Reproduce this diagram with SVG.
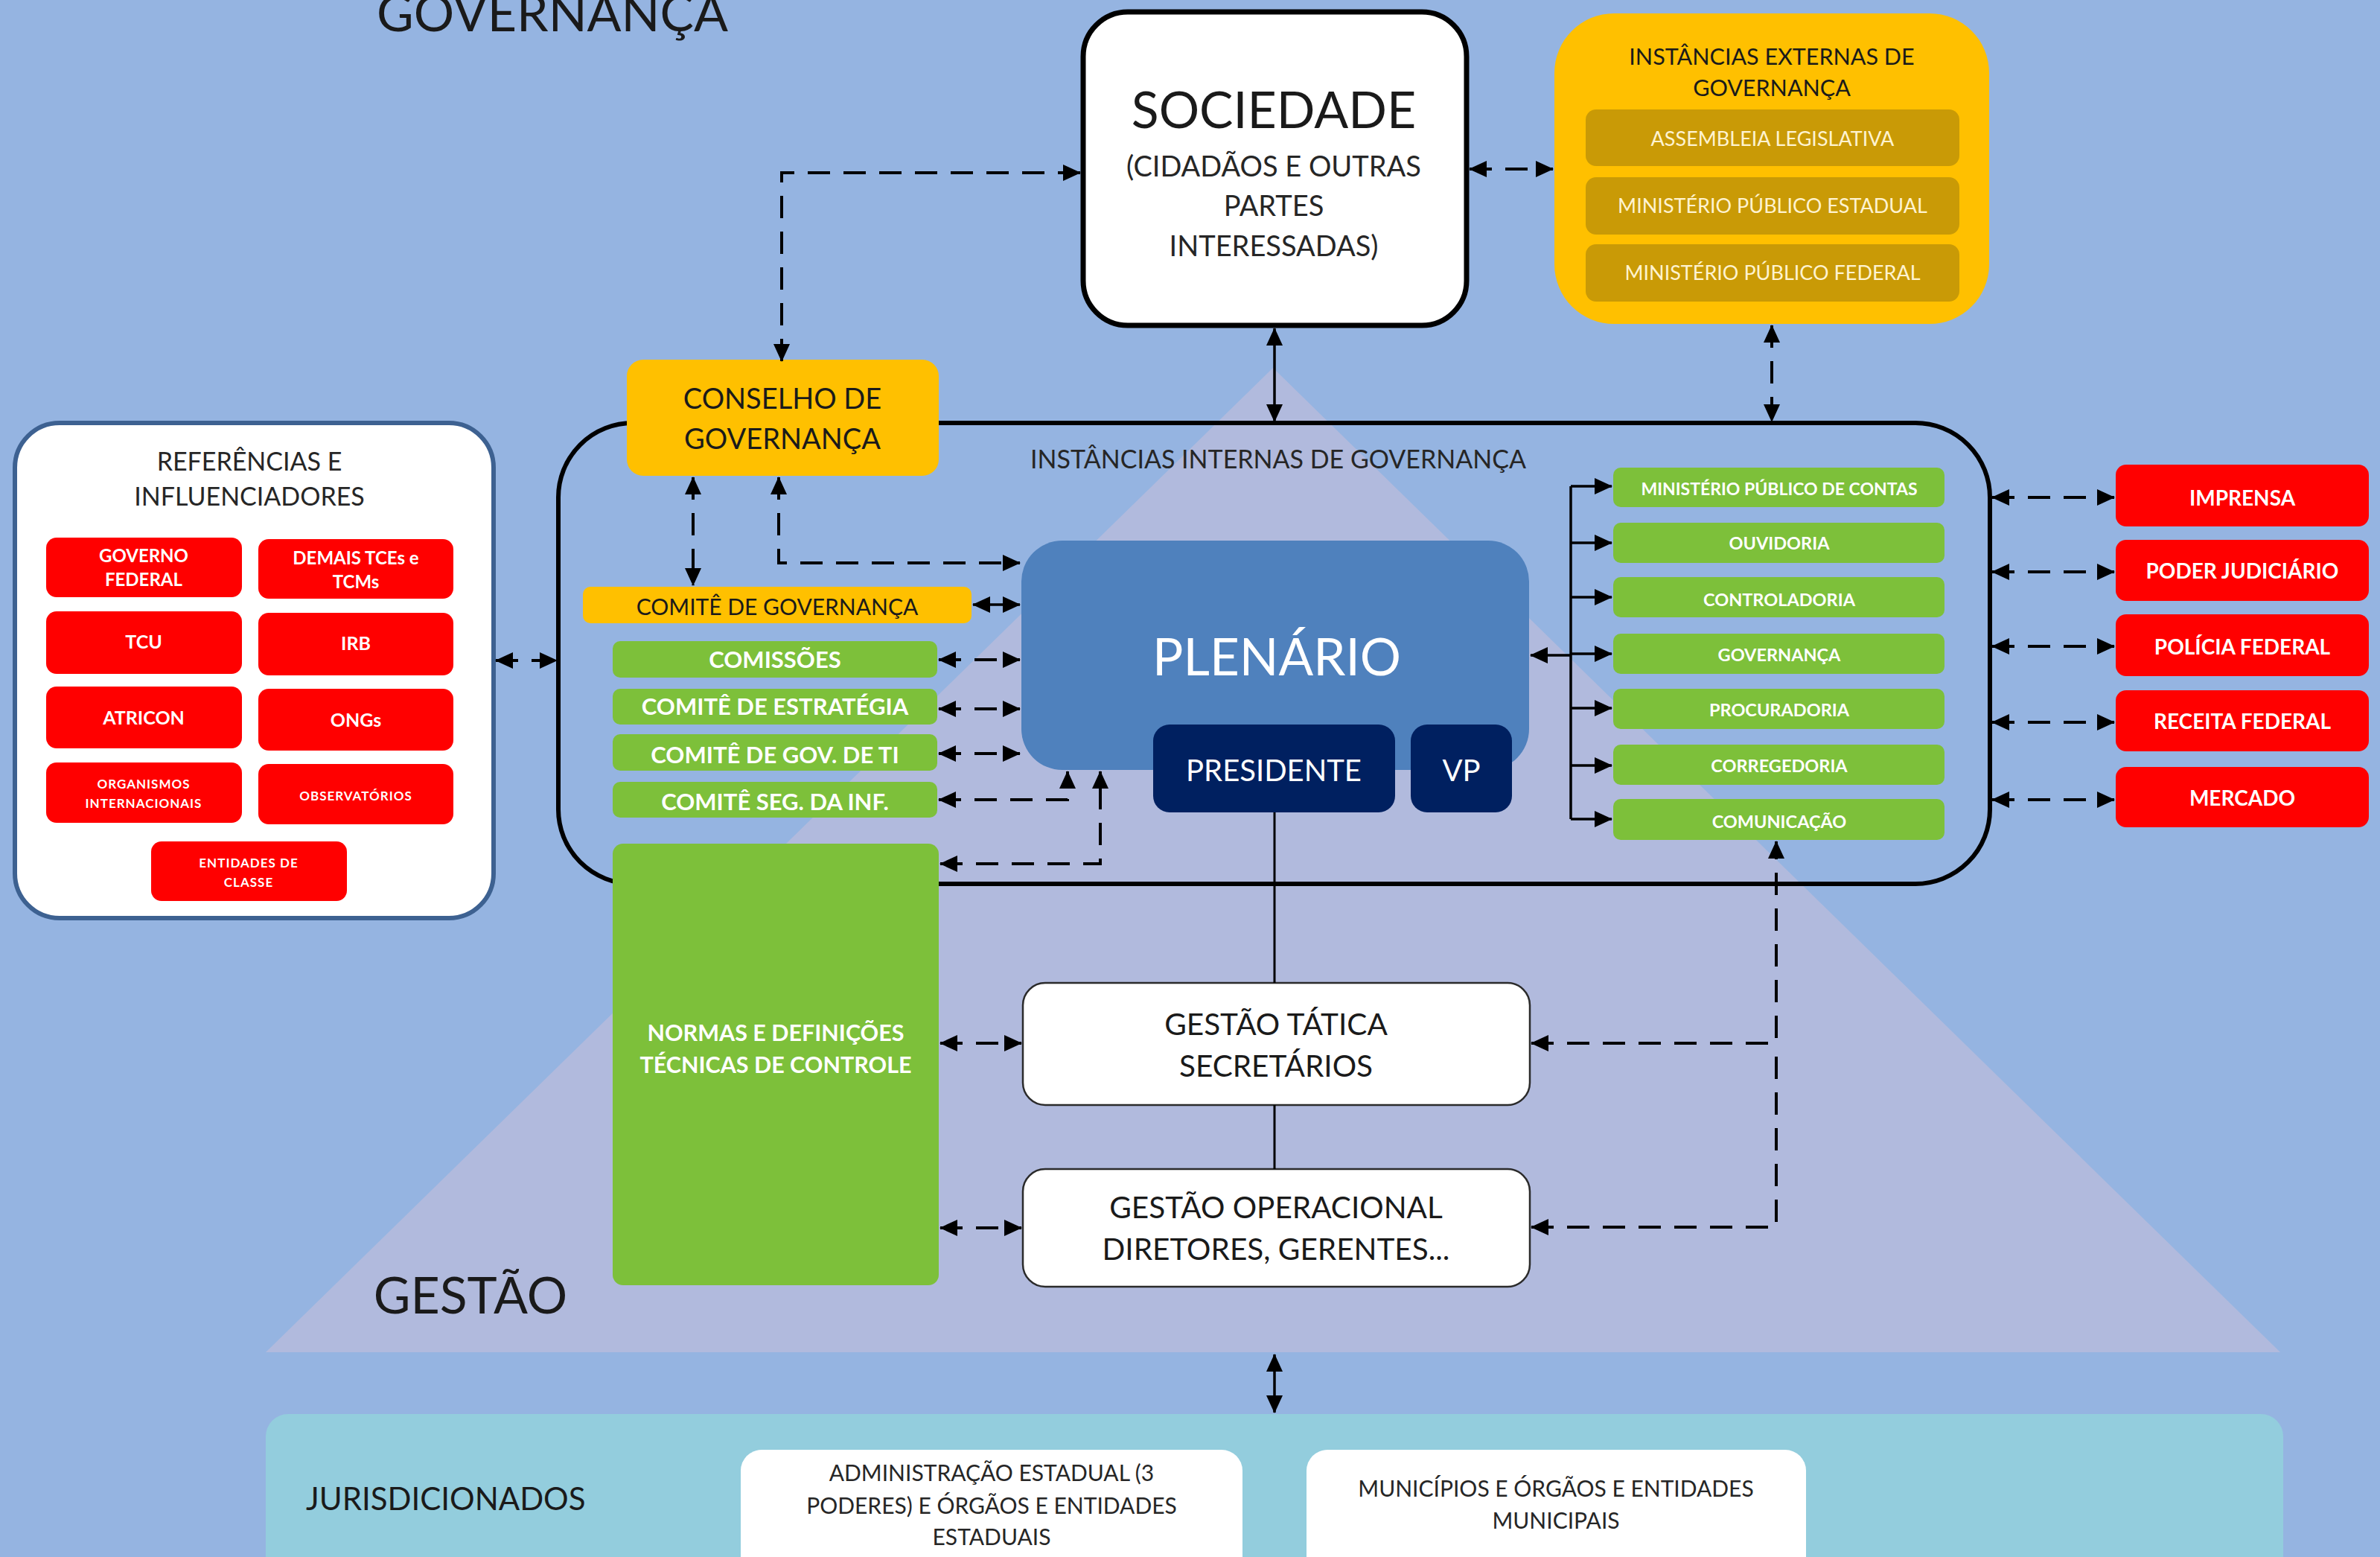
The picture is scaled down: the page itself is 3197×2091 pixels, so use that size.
<svg xmlns="http://www.w3.org/2000/svg" width="3197" height="2091" viewBox="0 0 3197 2091">
<defs>
<marker id="ah" viewBox="0 0 24 22" refX="23" refY="11" markerWidth="24" markerHeight="22" markerUnits="userSpaceOnUse" orient="auto-start-reverse"><path d="M0,0 L24,11 L0,22 z" fill="#000"/></marker>
<style>
text{font-family:Lato,"Open Sans","Liberation Sans",sans-serif;text-anchor:middle}
.dk{fill:#1a1a1a}
.wb{fill:#fff;font-weight:700}
.red{fill:#FF0000}
.grn{fill:#7DC03A}
.ylw{fill:#FFC000}
.gold{fill:#C99A06}
.wbox{fill:#fff;stroke:#2b2b2b;stroke-width:2.5}
.dash{fill:none;stroke:#000;stroke-width:4;stroke-dasharray:30 18}
.sol{fill:none;stroke:#000;stroke-width:3.5}
.thin{fill:none;stroke:#000;stroke-width:3}
</style>
</defs>
<rect x="0" y="0" width="3197" height="2091" fill="#95B4E1"/>
<polygon points="1710,494 357,1816 3063,1816" fill="#B1BADD"/>
<text x="742" y="42" font-size="68" class="dk">GOVERNANÇA</text>
<text x="632" y="1764" font-size="68" class="dk">GESTÃO</text>

<g id="internas">
<rect x="750" y="568" width="1923" height="619" rx="100" fill="none" stroke="#000" stroke-width="6"/>
<text x="1717" y="629" font-size="34" fill="#262626">INSTÂNCIAS INTERNAS DE GOVERNANÇA</text>
</g>

<g id="jurisdicionados">
<rect x="357" y="1899" width="2710" height="260" rx="30" fill="#93CDDD"/>
<text x="411" y="2028" font-size="42" class="dk" style="text-anchor:start">JURISDICIONADOS</text>
</g>
<g id="adm-estadual">
<rect x="995" y="1947" width="674" height="200" rx="28" fill="#fff"/>
<text x="1332" y="1989" font-size="30" fill="#262626">ADMINISTRAÇÃO ESTADUAL (3</text>
<text x="1332" y="2033" font-size="30" fill="#262626">PODERES) E ÓRGÃOS E ENTIDADES</text>
<text x="1332" y="2075" font-size="30" fill="#262626">ESTADUAIS</text>
</g>
<g id="municipios">
<rect x="1755" y="1947" width="671" height="200" rx="28" fill="#fff"/>
<text x="2090" y="2010" font-size="30" fill="#262626">MUNICÍPIOS E ÓRGÃOS E ENTIDADES</text>
<text x="2090" y="2053" font-size="30" fill="#262626">MUNICIPAIS</text>
</g>

<g id="sociedade">
<rect x="1455" y="16" width="515" height="421" rx="60" fill="#fff" stroke="#000" stroke-width="7"/>
<text x="1711" y="172" font-size="68" class="dk">SOCIEDADE</text>
<text x="1711" y="237" font-size="38" fill="#262626">(CIDADÃOS E OUTRAS</text>
<text x="1711" y="290" font-size="38" fill="#262626">PARTES</text>
<text x="1711" y="344" font-size="38" fill="#262626">INTERESSADAS)</text>
</g>

<g id="externas">
<rect x="2088" y="18" width="584" height="417" rx="80" class="ylw"/>
<text x="2380" y="87" font-size="30.5" class="dk">INSTÂNCIAS EXTERNAS DE</text>
<text x="2380" y="129" font-size="30.5" class="dk">GOVERNANÇA</text>
<rect x="2130" y="147" width="502" height="76" rx="14" class="gold"/>
<text x="2381" y="196" font-size="27" fill="#FFF3D0">ASSEMBLEIA LEGISLATIVA</text>
<rect x="2130" y="238" width="502" height="77" rx="14" class="gold"/>
<text x="2381" y="286" font-size="27" fill="#FFF3D0">MINISTÉRIO PÚBLICO ESTADUAL</text>
<rect x="2130" y="328" width="502" height="77" rx="14" class="gold"/>
<text x="2381" y="376" font-size="27" fill="#FFF3D0">MINISTÉRIO PÚBLICO FEDERAL</text>
</g>

<g id="conselho">
<rect x="842" y="483" width="419" height="156" rx="22" class="ylw"/>
<text x="1051" y="549" font-size="38" class="dk">CONSELHO DE</text>
<text x="1051" y="603" font-size="38" class="dk">GOVERNANÇA</text>
</g>

<g id="referencias">
<rect x="20" y="568" width="643" height="665" rx="60" fill="#fff" stroke="#3D6191" stroke-width="6"/>
<text x="335" y="632" font-size="34" fill="#262626">REFERÊNCIAS E</text>
<text x="335" y="679" font-size="34" fill="#262626">INFLUENCIADORES</text>
<rect x="62" y="722" width="263" height="80" rx="14" class="red"/>
<text x="193" y="755" font-size="24" class="wb">GOVERNO</text>
<text x="193" y="787" font-size="24" class="wb">FEDERAL</text>
<rect x="347" y="724" width="262" height="80" rx="14" class="red"/>
<text x="478" y="758" font-size="24" class="wb">DEMAIS TCEs e</text>
<text x="478" y="790" font-size="24" class="wb">TCMs</text>
<rect x="62" y="821" width="263" height="84" rx="14" class="red"/>
<text x="193" y="871" font-size="25" class="wb">TCU</text>
<rect x="347" y="823" width="262" height="84" rx="14" class="red"/>
<text x="478" y="873" font-size="25" class="wb">IRB</text>
<rect x="62" y="922" width="263" height="83" rx="14" class="red"/>
<text x="193" y="973" font-size="25" class="wb">ATRICON</text>
<rect x="347" y="925" width="262" height="83" rx="14" class="red"/>
<text x="478" y="976" font-size="25" class="wb">ONGs</text>
<rect x="62" y="1024" width="263" height="81" rx="14" class="red"/>
<text x="193" y="1059" font-size="17" class="wb" letter-spacing="1">ORGANISMOS</text>
<text x="193" y="1085" font-size="17" class="wb" letter-spacing="1">INTERNACIONAIS</text>
<rect x="347" y="1026" width="262" height="81" rx="14" class="red"/>
<text x="478" y="1075" font-size="17" class="wb" letter-spacing="1">OBSERVATÓRIOS</text>
<rect x="203" y="1130" width="263" height="80" rx="14" class="red"/>
<text x="334" y="1165" font-size="17" class="wb" letter-spacing="1">ENTIDADES  DE</text>
<text x="334" y="1191" font-size="17" class="wb" letter-spacing="1">CLASSE</text>
</g>

<g id="comite-governanca">
<rect x="783" y="788" width="522" height="49" rx="10" class="ylw"/>
<text x="1044" y="826" font-size="30" class="dk">COMITÊ DE GOVERNANÇA</text>
</g>
<g id="comissoes">
<rect x="823" y="861" width="436" height="49" rx="10" class="grn"/>
<text x="1041" y="897" font-size="31" class="wb">COMISSÕES</text>
</g>
<g id="comite-estrategia">
<rect x="823" y="925" width="436" height="48" rx="10" class="grn"/>
<text x="1041" y="960" font-size="31" class="wb">COMITÊ DE ESTRATÉGIA</text>
</g>
<g id="comite-ti">
<rect x="823" y="986" width="436" height="49" rx="10" class="grn"/>
<text x="1041" y="1025" font-size="31" class="wb">COMITÊ DE GOV. DE TI</text>
</g>
<g id="comite-seg">
<rect x="823" y="1050" width="436" height="48" rx="10" class="grn"/>
<text x="1041" y="1088" font-size="31" class="wb">COMITÊ SEG. DA INF.</text>
</g>
<g id="normas">
<rect x="823" y="1133" width="438" height="593" rx="14" class="grn"/>
<text x="1042" y="1398" font-size="30.5" class="wb">NORMAS E DEFINIÇÕES</text>
<text x="1042" y="1441" font-size="30.5" class="wb">TÉCNICAS DE CONTROLE</text>
</g>

<g id="plenario">
<rect x="1372" y="726" width="682" height="308" rx="55" fill="#4F81BD"/>
<text x="1715" y="907" font-size="69" fill="#fff">PLENÁRIO</text>
</g>
<g id="presidente">
<rect x="1549" y="973" width="325" height="118" rx="22" fill="#002060"/>
<text x="1711" y="1049" font-size="40" fill="#fff">PRESIDENTE</text>
</g>
<g id="vp">
<rect x="1895" y="973" width="136" height="118" rx="22" fill="#002060"/>
<text x="1963" y="1049" font-size="40" fill="#fff">VP</text>
</g>

<g id="orgaos-internos">
<rect x="2167" y="628" width="445" height="53" rx="10" class="grn"/>
<text x="2390" y="665" font-size="23" class="wb">MINISTÉRIO PÚBLICO DE CONTAS</text>
<rect x="2167" y="702" width="445" height="54" rx="10" class="grn"/>
<text x="2390" y="738" font-size="23.5" class="wb">OUVIDORIA</text>
<rect x="2167" y="775" width="445" height="54" rx="10" class="grn"/>
<text x="2390" y="814" font-size="23.5" class="wb">CONTROLADORIA</text>
<rect x="2167" y="851" width="445" height="54" rx="10" class="grn"/>
<text x="2390" y="888" font-size="23.5" class="wb">GOVERNANÇA</text>
<rect x="2167" y="925" width="445" height="54" rx="10" class="grn"/>
<text x="2390" y="962" font-size="23.5" class="wb">PROCURADORIA</text>
<rect x="2167" y="1000" width="445" height="54" rx="10" class="grn"/>
<text x="2390" y="1037" font-size="23.5" class="wb">CORREGEDORIA</text>
<rect x="2167" y="1073" width="445" height="55" rx="10" class="grn"/>
<text x="2390" y="1112" font-size="23.5" class="wb">COMUNICAÇÃO</text>
</g>

<g id="externos-direita">
<rect x="2842" y="624" width="340" height="83" rx="14" class="red"/>
<text x="3012" y="679" font-size="28" class="wb">IMPRENSA</text>
<rect x="2842" y="725" width="340" height="82" rx="14" class="red"/>
<text x="3012" y="777" font-size="28" class="wb">PODER JUDICIÁRIO</text>
<rect x="2842" y="825" width="340" height="83" rx="14" class="red"/>
<text x="3012" y="879" font-size="28" class="wb">POLÍCIA FEDERAL</text>
<rect x="2842" y="927" width="340" height="82" rx="14" class="red"/>
<text x="3012" y="979" font-size="28" class="wb">RECEITA FEDERAL</text>
<rect x="2842" y="1030" width="340" height="81" rx="14" class="red"/>
<text x="3012" y="1082" font-size="28" class="wb">MERCADO</text>
</g>

<g id="gestao-tatica">
<rect x="1374" y="1320" width="681" height="164" rx="30" class="wbox"/>
<text x="1714" y="1390" font-size="40.5" class="dk">GESTÃO TÁTICA</text>
<text x="1714" y="1446" font-size="40.5" class="dk">SECRETÁRIOS</text>
</g>
<g id="gestao-operacional">
<rect x="1374" y="1570" width="681" height="158" rx="30" class="wbox"/>
<text x="1714" y="1636" font-size="40.5" class="dk">GESTÃO OPERACIONAL</text>
<text x="1714" y="1692" font-size="40.5" class="dk">DIRETORES, GERENTES...</text>
</g>

<g id="connectors">
<path class="dash" d="M1050,485 V232 H1451" marker-start="url(#ah)" marker-end="url(#ah)"/>
<path class="dash" d="M931,641 V786" marker-start="url(#ah)" marker-end="url(#ah)"/>
<path class="dash" d="M1046,641 V756 H1370" marker-start="url(#ah)" marker-end="url(#ah)"/>
<path class="sol" d="M1307,812 H1370" marker-start="url(#ah)" marker-end="url(#ah)"/>
<path class="dash" d="M1261,886 H1370" marker-start="url(#ah)" marker-end="url(#ah)"/>
<path class="dash" d="M1261,952 H1370" marker-start="url(#ah)" marker-end="url(#ah)"/>
<path class="dash" d="M1261,1012 H1370" marker-start="url(#ah)" marker-end="url(#ah)"/>
<path class="dash" d="M1261,1074 H1434 V1036" marker-start="url(#ah)" marker-end="url(#ah)"/>
<path class="dash" d="M1263,1160 H1478 V1036" marker-start="url(#ah)" marker-end="url(#ah)"/>
<path class="dash" d="M666,887 H748" marker-start="url(#ah)" marker-end="url(#ah)"/>
<path class="dash" d="M1263,1401 H1372" marker-start="url(#ah)" marker-end="url(#ah)"/>
<path class="dash" d="M1263,1649 H1372" marker-start="url(#ah)" marker-end="url(#ah)"/>
<path class="dash" d="M2057,1401 H2386 V1130" marker-start="url(#ah)" marker-end="url(#ah)"/>
<path class="dash" d="M2057,1648 H2386 V1401" marker-start="url(#ah)"/>
<path class="sol" d="M1712,441 V566" marker-start="url(#ah)" marker-end="url(#ah)"/>
<path class="dash" d="M2380,437 V566" marker-start="url(#ah)" marker-end="url(#ah)"/>
<path class="dash" d="M1974,227 H2086" marker-start="url(#ah)" marker-end="url(#ah)"/>
<path class="dash" d="M2676,668 H2840" marker-start="url(#ah)" marker-end="url(#ah)"/>
<path class="dash" d="M2676,768 H2840" marker-start="url(#ah)" marker-end="url(#ah)"/>
<path class="dash" d="M2676,868 H2840" marker-start="url(#ah)" marker-end="url(#ah)"/>
<path class="dash" d="M2676,970 H2840" marker-start="url(#ah)" marker-end="url(#ah)"/>
<path class="dash" d="M2676,1074 H2840" marker-start="url(#ah)" marker-end="url(#ah)"/>
<path class="sol" d="M2110,653 V1100"/>
<path class="sol" d="M2110,653 H2165" marker-end="url(#ah)"/>
<path class="sol" d="M2110,729 H2165" marker-end="url(#ah)"/>
<path class="sol" d="M2110,802 H2165" marker-end="url(#ah)"/>
<path class="sol" d="M2110,878 H2165" marker-end="url(#ah)"/>
<path class="sol" d="M2110,951 H2165" marker-end="url(#ah)"/>
<path class="sol" d="M2110,1028 H2165" marker-end="url(#ah)"/>
<path class="sol" d="M2110,1100 H2165" marker-end="url(#ah)"/>
<path class="sol" d="M2110,880 H2056" marker-end="url(#ah)"/>
<path class="thin" d="M1712,1091 V1320"/>
<path class="thin" d="M1712,1484 V1570"/>
<path class="sol" d="M1712,1819 V1897" marker-start="url(#ah)" marker-end="url(#ah)"/>
</g>
</svg>
